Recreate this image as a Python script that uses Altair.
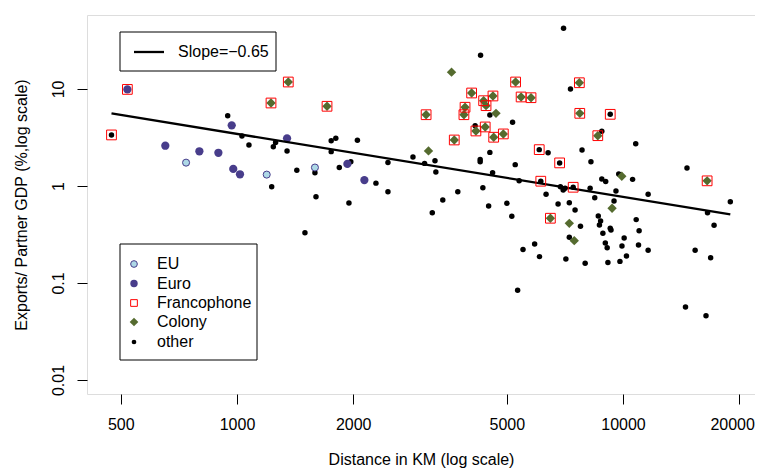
import altair as alt
import pandas as pd

# ---------------- data ----------------
other_x = [946, 1030, 1074, 1230, 1259, 1242, 1348, 1429, 1592, 1602, 1754, 1803, 1754, 1841, 1500, 1950,
           7015, 4276, 7311, 4520, 5176, 4140, 4520, 2857, 2461, 3258, 3062, 3275, 4266, 4266, 5258, 4594,
           6397, 5383, 6885, 7080, 7000, 2291, 2461, 3733, 4335, 3413, 4487, 5003, 6320, 6790, 7260, 2051, 1972,
           3206, 5152, 7514, 7260, 5508, 5904, 6077, 7113, 5334,
           8813, 10790, 7833, 8260, 14650, 9750, 10590, 8813, 9020, 8220, 9590, 8450, 11620, 9480, 18970,
           16560, 8630, 8750, 8690, 7760, 10820, 17220, 9268, 9310, 11010, 8870, 10070, 9000, 9100, 9940,
           10970, 11620, 10210, 9820, 9140, 7980, 15380, 16870, 14520, 16410,
           473, 6068, 6853, 6124, 7430, 9268]
other_y = [5.31, 3.28, 2.65, 0.98, 2.80, 2.54, 2.30, 1.45, 1.37, 0.776, 2.93, 3.10, 2.26, 1.55, 0.33, 0.668,
           42.2, 22.3, 10.0, 5.39, 4.54, 4.19, 2.22, 1.99, 1.75, 1.82, 1.71, 1.39, 1.88, 1.78, 1.66, 1.37,
           2.20, 1.13, 0.98, 0.95, 0.91, 1.07, 0.87, 0.87, 0.96, 0.717, 0.622, 0.663, 0.82, 0.652, 0.673, 2.96, 1.78,
           0.531, 0.487, 0.566, 0.296, 0.221, 0.252, 0.187, 0.177, 0.084,
           3.66, 2.73, 2.35, 1.78, 1.53, 1.33, 1.17, 1.18, 1.11, 0.946, 0.888, 0.757, 0.82, 0.70, 0.689,
           0.531, 0.491, 0.436, 0.396, 0.384, 0.45, 0.394, 0.366, 0.352, 0.346, 0.325, 0.291, 0.258, 0.231, 0.241,
           0.246, 0.217, 0.19, 0.167, 0.163, 0.16, 0.217, 0.182, 0.0566, 0.046,
           3.36, 2.37, 1.73, 1.12, 0.97, 5.48]

eu_x = [738, 1194, 1592]
eu_y = [1.74, 1.31, 1.55]

euro_x = [969, 652, 799, 895, 978, 1018, 1348, 1932, 2138, 520]
euro_y = [4.22, 2.60, 2.28, 2.20, 1.50, 1.32, 3.10, 1.69, 1.15, 9.9]

colony_x = [3596, 4688, 3134, 7260, 7478, 9930, 9370,
            1358, 1225, 1711, 5270, 7709, 4054, 4604, 4355, 4418, 5446, 5778, 3898, 3872, 3090,
            4159, 4396, 4624, 4898, 3655, 6485, 7728, 8605, 16520]
colony_y = [14.9, 5.61, 2.30, 0.412, 0.273, 1.26, 0.589,
            11.8, 7.17, 6.63, 11.8, 11.6, 9.09, 8.47, 7.57, 6.73, 8.27, 8.13, 6.48, 5.43, 5.43,
            3.69, 4.06, 3.18, 3.44, 2.98, 0.465, 5.61, 3.30, 1.13]

franco_x = [1358, 1225, 1711, 5270, 7709, 4054, 4604, 4355, 4418, 5446, 5778, 3898, 3872, 3090,
            4159, 4396, 4624, 4898, 3655, 6485, 7728, 8605, 16520,
            473, 6068, 6853, 6124, 7430, 9268, 520]
franco_y = [11.8, 7.17, 6.63, 11.8, 11.6, 9.09, 8.47, 7.57, 6.73, 8.27, 8.13, 6.48, 5.43, 5.43,
            3.69, 4.06, 3.18, 3.44, 2.98, 0.465, 5.61, 3.30, 1.13,
            3.36, 2.37, 1.73, 1.12, 0.97, 5.48, 9.9]

fit_x = [473, 18970]
fit_y = [5.6, 0.51]

legend_labels = ["EU", "Euro", "Francophone", "Colony", "other"]
slope_label = "Slope=\u22120.65"

x_ticks = [500, 1000, 2000, 5000, 10000, 20000]
y_ticks = [0.01, 0.1, 1, 10]

# ---------------- styling ----------------
FONT = "Liberation Sans"
EU_FILL = "#ADD8E6"
EURO = "#483D8B"
COLONY = "#556B2F"
RED = "#FF0000"

W, H = 668, 379

xs = alt.Scale(type="log", domain=[408.7, 21980], nice=False)
ys = alt.Scale(type="log", domain=[0.00717, 57.9], nice=False)

xax = alt.Axis(values=x_ticks, format="d", title="Distance in KM (log scale)", grid=False, domain=False,
               tickSize=10, tickColor="black", labelFontSize=16, labelFont=FONT, labelColor="black",
               labelPadding=12, titleFont=FONT, titleFontSize=16, titleFontWeight="normal",
               titleColor="black", titlePadding=19, labelFlush=False, labelOverlap=False,
               labelOffset={"condition": {"test": "datum.value == 20000", "value": -7}, "value": 0})
yax = alt.Axis(values=y_ticks, format="~g", title="Exports/ Partner GDP (%,log scale)", grid=False,
               domain=False, tickSize=10, tickColor="black", labelFontSize=16, labelFont=FONT,
               labelColor="black", labelAngle=270, labelAlign="center", labelBaseline="bottom",
               labelPadding=11, titleFont=FONT, titleFontSize=16, titleFontWeight="normal",
               titleColor="black", titlePadding=21, labelFlush=False, labelOverlap=False)


def pts(xv, yv):
    return pd.DataFrame({"x": xv, "y": yv})


def enc(ch):
    return ch.encode(x=alt.X("x:Q", scale=xs, axis=xax), y=alt.Y("y:Q", scale=ys, axis=yax))


layers = []
layers.append(enc(alt.Chart(pts(other_x, other_y)).mark_point(
    shape="circle", filled=True, color="black", size=30, opacity=1)))
layers.append(enc(alt.Chart(pts(eu_x, eu_y)).mark_point(
    shape="circle", filled=True, fill=EU_FILL, stroke=EURO, strokeWidth=1, size=50, opacity=1)))
layers.append(enc(alt.Chart(pts(euro_x, euro_y)).mark_point(
    shape="circle", filled=True, color=EURO, size=68, opacity=1)))
layers.append(enc(alt.Chart(pts(colony_x, colony_y)).mark_point(
    shape="diamond", filled=True, color=COLONY, size=88, opacity=1)))
layers.append(enc(alt.Chart(pts(fit_x, fit_y)).mark_line(color="black", strokeWidth=2.3)))
layers.append(enc(alt.Chart(pts(franco_x, franco_y)).mark_point(
    shape="square", filled=False, stroke=RED, strokeWidth=1, size=95, opacity=1)))

one = pd.DataFrame({"k": [0]})

# legend 1 (fit line)
layers.append(alt.Chart(one).mark_rect(fill="white", stroke="black", strokeWidth=1).encode(
    x=alt.value(33), x2=alt.value(189), y=alt.value(17), y2=alt.value(56)))
layers.append(alt.Chart(one).mark_rule(color="black", strokeWidth=2.3).encode(
    x=alt.value(47), x2=alt.value(77), y=alt.value(37)))
layers.append(alt.Chart(pd.DataFrame({"t": [slope_label]})).mark_text(
    align="left", baseline="middle", font=FONT, fontSize=16, color="black").encode(
    x=alt.value(91), y=alt.value(37), text="t:N"))

# legend 2 (groups)
layers.append(alt.Chart(one).mark_rect(fill="white", stroke="black", strokeWidth=1).encode(
    x=alt.value(33), x2=alt.value(170), y=alt.value(229), y2=alt.value(345)))
leg_y = [249, 268.5, 288, 307, 327]
sym = [
    dict(shape="circle", filled=True, fill=EU_FILL, stroke=EURO, strokeWidth=1, size=45),
    dict(shape="circle", filled=True, color=EURO, size=55),
    dict(shape="square", filled=False, stroke=RED, strokeWidth=1, size=45),
    dict(shape="diamond", filled=True, color=COLONY, size=75),
    dict(shape="circle", filled=True, color="black", size=22),
]
for lab, yy, s in zip(legend_labels, leg_y, sym):
    layers.append(alt.Chart(one).mark_point(opacity=1, **s).encode(
        x=alt.value(47), y=alt.value(yy)))
    layers.append(alt.Chart(pd.DataFrame({"t": [lab]})).mark_text(
        align="left", baseline="middle", font=FONT, fontSize=16, color="black").encode(
        x=alt.value(70), y=alt.value(yy), text="t:N"))

chart = alt.layer(*layers).properties(
    width=W, height=H,
    autosize=alt.AutoSizeParams(type="none"),
    padding={"left": 79, "top": 7, "right": 0, "bottom": 76},
).configure_view(stroke="#222222", strokeWidth=1.3).configure(background="white")

chart.save("out.html", embed_options={"renderer": "svg", "actions": False})
